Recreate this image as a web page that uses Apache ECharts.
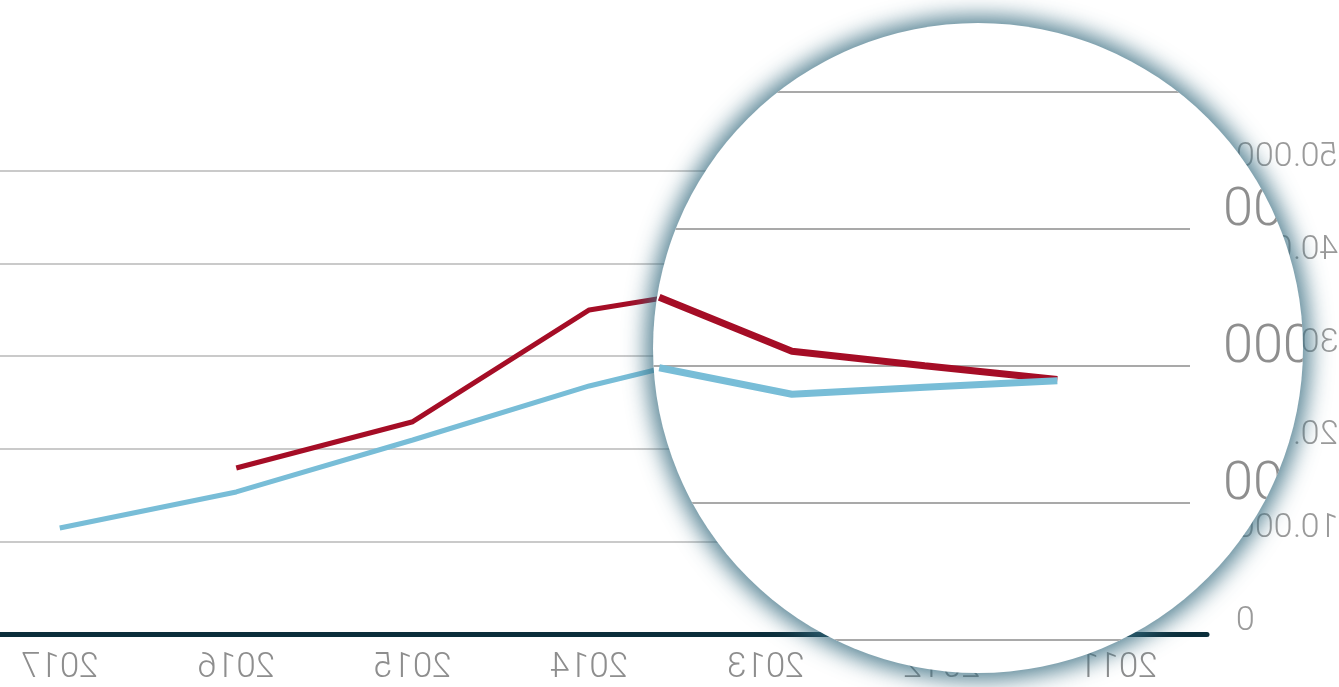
<!DOCTYPE html>
<html><head><meta charset="utf-8">
<script src="https://cdn.jsdelivr.net/npm/echarts@6/dist/echarts.min.js"></script>
<style>
html,body{margin:0;padding:0;background:#fff;overflow:hidden;width:1339px;height:687px}
#stage{position:absolute;left:0;top:0;width:1339px;height:687px;transform:scaleX(-1);transform-origin:50% 50%}
#main{position:absolute;left:0;top:0;width:1339px;height:687px}
#lens{position:absolute;left:36px;top:23px;width:650px;height:650px;border-radius:50%;overflow:hidden;background:#fff;
  box-shadow:0 0 22px 7px rgba(55,108,128,0.85)}
#zoom{position:absolute;left:0;top:0;width:650px;height:650px}
</style></head><body>
<div id="stage"><div id="main"></div><div id="lens"><div id="zoom"></div></div></div>
<script>
// Main chart (drawn mirrored, as in the reference)
const years = ['2011', '2012', '2013', '2014', '2015', '2016', '2017'];
const seriesRed = [29000, 30000, 38050, 34970, 22930, 17940, null];
const seriesBlue = [28900, 28400, 31400, 26780, 20960, 15360, 11480];
const yTicks = [0, 10000, 20000, 30000, 40000, 50000];

// Magnifying-lens view
const zoomYears = [2011, 2012, 2013, 2014];
const zoomRed = [29000, 30000, 31060, 35000];
const zoomBlue = [28900, 28430, 27920, 29850];

const FONT = "Roboto, 'DejaVu Sans Condensed', sans-serif";
const RED = '#a50d26';
const BLUE = '#78bdd7';
const fmt = v => String(v).replace(/\B(?=(\d{3})+(?!\d))/g, '.');

const main = echarts.init(document.getElementById('main'));
main.setOption({
  animation: false,
  grid: { left: 132, right: -28.5, top: 170.5, bottom: 52.5, containLabel: false, outerBoundsMode: 'none' },
  xAxis: {
    type: 'category', data: years, boundaryGap: true,
    axisLine: { lineStyle: { color: '#0b2e3b', width: 5 } },
    axisTick: { show: false },
    axisLabel: { fontFamily: FONT, fontWeight: 300, fontSize: 35, color: '#8e8e8e', margin: 34, verticalAlign: 'middle' }
  },
  yAxis: {
    type: 'value', min: yTicks[0], max: yTicks[yTicks.length - 1], interval: 10000,
    axisLine: { show: false }, axisTick: { show: false },
    splitLine: { lineStyle: { color: '#b8b8b8', width: 1.5 } },
    axisLabel: { formatter: fmt, fontFamily: FONT, fontWeight: 300, fontSize: 34, color: '#9a9a9a', margin: 29, verticalAlign: 'bottom', lineHeight: 26 }
  },
  series: [
    { type: 'line', data: seriesRed, symbol: 'none', lineStyle: { color: RED, width: 5 } },
    { type: 'line', data: seriesBlue, symbol: 'none', lineStyle: { color: BLUE, width: 5 } }
  ]
});

const zoom = echarts.init(document.getElementById('zoom'));
zoom.setOption({
  animation: false,
  grid: { left: 113, right: -126.5, top: 68.5, bottom: 33, containLabel: false, outerBoundsMode: 'none' },
  xAxis: { type: 'value', min: 2010, max: 2015, show: false },
  yAxis: {
    type: 'value', min: 10000, max: 50000, interval: 10000,
    axisLine: { show: false }, axisTick: { show: false },
    splitLine: { lineStyle: { color: '#a9a9a9', width: 2 } },
    axisLabel: { formatter: fmt, fontFamily: FONT, fontWeight: 300, fontSize: 54, color: '#8e8e8e', margin: 33, verticalAlign: 'bottom', lineHeight: 34 }
  },
  series: [
    { type: 'line', data: zoomYears.map((y, i) => [y, zoomRed[i]]), symbol: 'none', lineStyle: { color: RED, width: 7 } },
    { type: 'line', data: zoomYears.map((y, i) => [y, zoomBlue[i]]), symbol: 'none', lineStyle: { color: BLUE, width: 7 } }
  ]
});
</script>
</body></html>
